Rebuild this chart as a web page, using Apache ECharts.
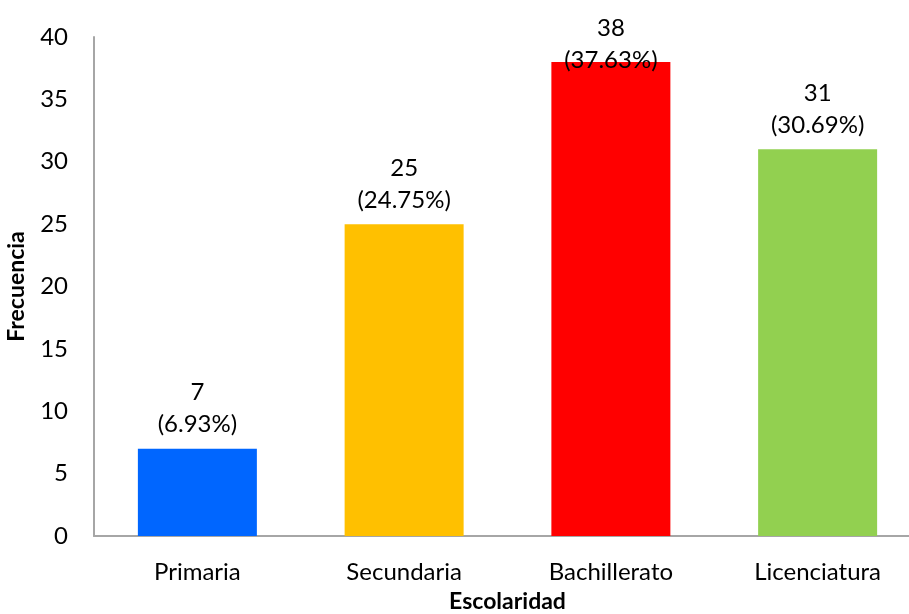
<!DOCTYPE html>
<html>
<head>
<meta charset="utf-8">
<script src="https://cdn.jsdelivr.net/npm/echarts@6/dist/echarts.min.js"></script>
<style>
  html, body { margin: 0; padding: 0; background: #fff; }
  #chart { width: 909px; height: 614px; }
</style>
</head>
<body>
<div id="chart"></div>
<script>
const categories = ['Primaria', 'Secundaria', 'Bachillerato', 'Licenciatura'];
const counts = [7, 25, 38, 31];
const percents = ['6.93%', '24.75%', '37.63%', '30.69%'];
const barColors = ['#0066FF', '#FFC000', '#FF0000', '#92D050'];

const font = 'Lato, "Open Sans", sans-serif';
const chart = echarts.init(document.getElementById('chart'));

chart.setOption({
  animation: false,
  textStyle: { fontFamily: font },
  grid: { left: 94, right: -12, top: 37, bottom: 78, containLabel: false, outerBoundsMode: 'none' },
  xAxis: {
    type: 'category',
    data: categories,
    name: 'Escolaridad',
    nameLocation: 'middle',
    nameGap: 54,
    nameTextStyle: { fontFamily: font, fontSize: 23, fontWeight: 'bold', color: '#000' },
    axisLine: { lineStyle: { color: '#A6A6A6', width: 2 } },
    axisTick: { show: false },
    axisLabel: { margin: 24, fontSize: 24, color: '#000', fontFamily: font }
  },
  yAxis: {
    type: 'value',
    min: 0,
    max: 40,
    interval: 5,
    name: 'Frecuencia',
    nameLocation: 'middle',
    nameGap: 66,
    nameTextStyle: { fontFamily: font, fontSize: 23, fontWeight: 'bold', color: '#000' },
    axisLine: { show: true, lineStyle: { color: '#A6A6A6', width: 2 } },
    axisTick: { show: false },
    splitLine: { show: false },
    axisLabel: { margin: 26, fontSize: 24, color: '#000', fontFamily: font }
  },
  series: [{
    type: 'bar',
    barWidth: 119,
    data: counts.map((v, i) => {
      const item = { value: v, itemStyle: { color: barColors[i] } };
      if (v === Math.max(...counts)) item.label = { distance: -14 };
      return item;
    }),
    label: {
      show: true,
      position: 'top',
      distance: 8,
      fontSize: 24,
      lineHeight: 32,
      color: '#000',
      fontFamily: font,
      formatter: p => p.value + '\n(' + percents[p.dataIndex] + ')'
    }
  }]
});
</script>
</body>
</html>
